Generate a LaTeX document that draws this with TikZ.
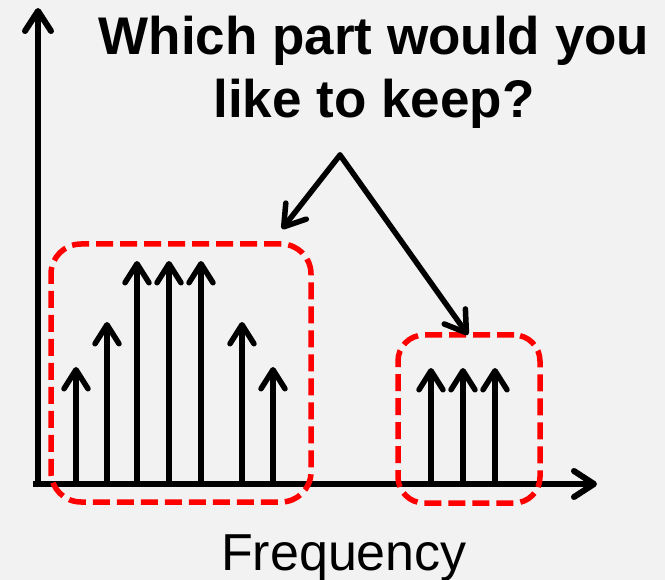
\documentclass[tikz,border=0pt]{standalone}
\usepackage{fontspec}
\setmainfont{Liberation Sans}
\usetikzlibrary{arrows.meta}
\definecolor{bg}{HTML}{F2F2F2}
\begin{document}
\begin{tikzpicture}[x=1pt,y=-1pt,
  axis/.style={line width=6pt,-{Straight Barb[length=20pt,width=26pt,round]}},
  spike/.style={line width=5.5pt,-{Straight Barb[length=19pt,width=24pt,round]}},
  pointer/.style={line width=5.5pt,line cap=round,-{Straight Barb[length=20pt,width=26pt,round]}},
  selbox/.style={draw=red,line width=5.5pt,dash pattern=on 17pt off 7pt,rounded corners=30pt,inner sep=0pt,minimum width=#1},
  title/.style={font=\fontsize{53}{63}\selectfont\bfseries,align=center}
]
\fill[bg] (0,0) rectangle (665,580);
\useasboundingbox (0,0) rectangle (665,580);
% axes
\coordinate (o) at (38,484);
\coordinate (ytip) at (38,8);
\coordinate (xstart) at (33,484);
\coordinate (xtip) at (597,484);
\draw[axis] (o) -- (ytip);
\draw[axis] (xstart) -- (xtip);
% spikes left
\foreach \x/\t [count=\i] in {76/367,107/322,137/261,169/261,201/261,242/322,273/367}{
  \coordinate (lb\i) at (\x,485);
  \coordinate (lt\i) at (\x,\t);
  \draw[spike] (lb\i) -- (lt\i);
}
% spikes right
\foreach \x [count=\i] in {431,463,495}{
  \coordinate (rb\i) at (\x,485);
  \coordinate (rt\i) at (\x,368);
  \draw[spike] (rb\i) -- (rt\i);
}
% selection boxes
\node[selbox=260pt,minimum height=258pt] (lbox) at (181,373) {};
\node[selbox=142pt,minimum height=168pt,rounded corners=26pt] (rbox) at (469,419) {};
% title
\node[title,anchor=base] (t1) at (374,55) {Which part would you};
\node[title,anchor=base] (t2) at (374,118) {like to keep?};
% pointers
\coordinate (v) at (340,155);
\coordinate (pl) at (282,229);
\coordinate (pr) at (468,335);
\draw[pointer] (v) -- (pl);
\draw[pointer] (v) -- (pr);
% label
\node[font=\fontsize{52}{60}\selectfont,anchor=base] (freq) at (344,570) {Frequency};
\end{tikzpicture}
\end{document}
